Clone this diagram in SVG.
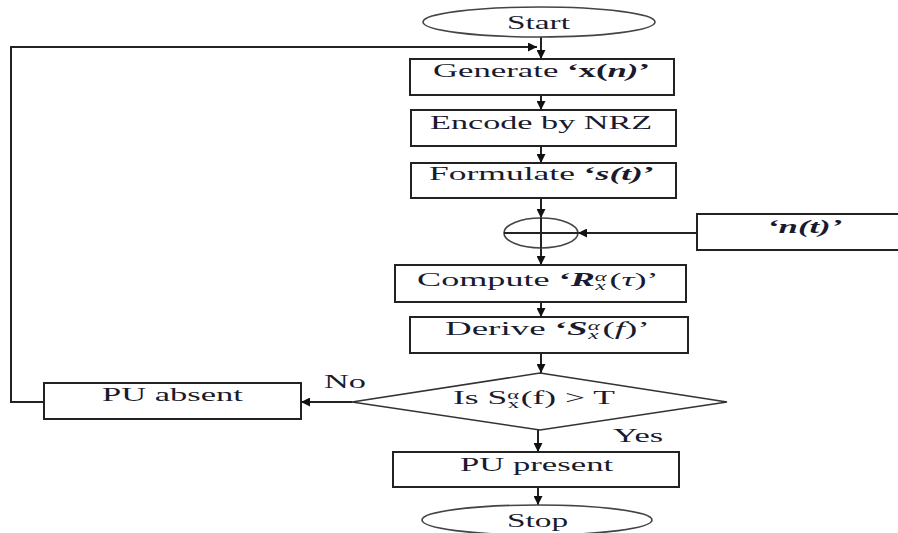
<svg xmlns="http://www.w3.org/2000/svg" width="898" height="533" viewBox="0 0 898 533">
  <defs>
    <marker id="arr" viewBox="0 0 10 10" refX="10" refY="5" markerWidth="9" markerHeight="9" markerUnits="userSpaceOnUse" orient="auto">
      <path d="M0,0 L10,5 L0,10 z" fill="#111"/>
    </marker>
    <style>
      .box { fill: #fff; stroke: #222; stroke-width: 2; }
      .term { fill: #fff; stroke: #444; stroke-width: 1.6; }
      .lbl { font-family: "Liberation Serif", "Times New Roman", serif; font-size: 19px; fill: #1a1a2e; }
      .b { font-weight: bold; }
      .i { font-style: italic; }
      .sm { font-size: 12px; }
      .edge { fill: none; stroke: #222; stroke-width: 2; }
      .edge-a { fill: none; stroke: #222; stroke-width: 2; marker-end: url(#arr); }
    </style>
  </defs>
  <rect width="898" height="533" fill="#fff"/>

  <!-- connectors; labels are drawn wide (x scale 1.75) -->
  <g id="connectors">
    <line class="edge-a" x1="541" y1="37" x2="541" y2="59"/>
    <polyline class="edge-a" points="44,402 11,402 11,47 537,47"/>
    <line class="edge-a" x1="541" y1="95" x2="541" y2="110"/>
    <line class="edge-a" x1="541" y1="146" x2="541" y2="163"/>
    <line class="edge-a" x1="541" y1="198" x2="541" y2="218"/>
    <line class="edge-a" x1="541" y1="248" x2="541" y2="265"/>
    <line class="edge-a" x1="697" y1="233" x2="578" y2="233"/>
    <line class="edge-a" x1="541" y1="302" x2="541" y2="317"/>
    <line class="edge-a" x1="541" y1="353" x2="541" y2="373"/>
    <line class="edge-a" x1="352" y1="402" x2="301" y2="402"/>
    <line class="edge-a" x1="538" y1="430" x2="538" y2="452"/>
    <line class="edge-a" x1="538" y1="487" x2="538" y2="505"/>
    <g transform="translate(324,388) scale(1.75,1)"><text class="lbl" x="0" y="0" textLength="24" lengthAdjust="spacingAndGlyphs">No</text></g>
    <g transform="translate(613,442) scale(1.75,1)"><text class="lbl" x="0" y="0" textLength="28.6" lengthAdjust="spacingAndGlyphs">Yes</text></g>
  </g>

  <g id="start">
    <ellipse class="term" cx="539" cy="22" rx="116" ry="15"/>
    <g transform="translate(507,29) scale(1.75,1)"><text class="lbl" x="0" y="0" textLength="36" lengthAdjust="spacingAndGlyphs">Start</text></g>
  </g>

  <g id="generate">
    <rect class="box" x="410" y="59" width="264" height="36"/>
    <g transform="translate(433,77) scale(1.75,1)"><text class="lbl" x="0" y="0" textLength="124" lengthAdjust="spacingAndGlyphs">Generate <tspan class="b">‘x(<tspan class="i">n)</tspan>’</tspan></text></g>
  </g>

  <g id="encode">
    <rect class="box" x="411" y="110" width="265" height="36"/>
    <g transform="translate(430,129) scale(1.75,1)"><text class="lbl" x="0" y="0" textLength="127" lengthAdjust="spacingAndGlyphs">Encode by NRZ</text></g>
  </g>

  <g id="formulate">
    <rect class="box" x="411" y="163" width="265" height="35"/>
    <g transform="translate(429,180) scale(1.75,1)"><text class="lbl" x="0" y="0" textLength="129" lengthAdjust="spacingAndGlyphs">Formulate <tspan class="b">‘<tspan class="i">s(t)</tspan>’</tspan></text></g>
  </g>

  <g id="adder">
    <ellipse cx="541" cy="233" rx="37" ry="15" fill="#fff" stroke="#444" stroke-width="1.6"/>
    <line class="edge" x1="504" y1="233" x2="578" y2="233"/>
    <line class="edge" x1="541" y1="218" x2="541" y2="248"/>
  </g>

  <g id="noise">
    <rect class="box" x="697" y="214" width="210" height="36"/>
    <g transform="translate(767,233) scale(1.75,1)"><text class="lbl b i" x="0" y="0" textLength="43" lengthAdjust="spacingAndGlyphs">‘n(t)’</text></g>
  </g>

  <g id="compute">
    <rect class="box" x="395" y="265" width="291" height="37"/>
    <g transform="translate(417,286) scale(1.75,1)"><text class="lbl" x="0" y="0" textLength="138" lengthAdjust="spacingAndGlyphs">Compute <tspan class="b">‘<tspan class="i">R</tspan></tspan><tspan class="sm i" dy="-5">α</tspan><tspan class="sm i" dx="-6" dy="9">x</tspan><tspan dx="2" dy="-4">(<tspan class="i">τ</tspan>)’</tspan></text></g>
  </g>

  <g id="derive">
    <rect class="box" x="410" y="317" width="278" height="36"/>
    <g transform="translate(445,335) scale(1.75,1)"><text class="lbl" x="0" y="0" textLength="117" lengthAdjust="spacingAndGlyphs">Derive <tspan class="b">‘<tspan class="i">S</tspan></tspan><tspan class="sm i" dy="-5">α</tspan><tspan class="sm i" dx="-6" dy="9">x</tspan><tspan dx="2" dy="-4">(<tspan class="i">f</tspan>)’</tspan></text></g>
  </g>

  <g id="decision">
    <polygon points="540,373 727,402 540,430 352,402" fill="#fff" stroke="#333" stroke-width="1.6"/>
    <g transform="translate(453,404) scale(1.75,1)"><text class="lbl" x="0" y="0" textLength="92.5" lengthAdjust="spacingAndGlyphs">Is S<tspan class="sm" dy="-5">α</tspan><tspan class="sm" dx="-6" dy="9">x</tspan><tspan dx="1" dy="-4">(f) &gt; T</tspan></text></g>
  </g>

  <g id="pu-absent">
    <rect class="box" x="44" y="383" width="257" height="36"/>
    <g transform="translate(102,401) scale(1.75,1)"><text class="lbl" x="0" y="0" textLength="80.5" lengthAdjust="spacingAndGlyphs">PU absent</text></g>
  </g>

  <g id="pu-present">
    <rect class="box" x="393" y="452" width="286" height="35"/>
    <g transform="translate(460,471) scale(1.75,1)"><text class="lbl" x="0" y="0" textLength="87.5" lengthAdjust="spacingAndGlyphs">PU present</text></g>
  </g>

  <g id="stop">
    <ellipse class="term" cx="537" cy="520" rx="115" ry="15"/>
    <g transform="translate(507,527) scale(1.75,1)"><text class="lbl" x="0" y="0" textLength="35" lengthAdjust="spacingAndGlyphs">Stop</text></g>
  </g>
</svg>
